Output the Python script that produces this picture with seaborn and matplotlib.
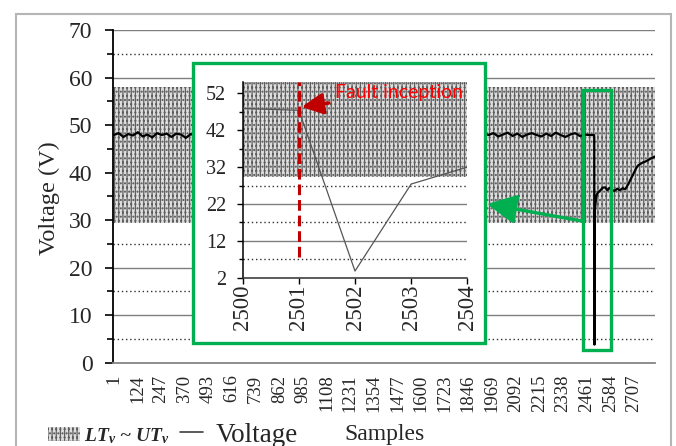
import numpy as np
import pandas as pd
import matplotlib
matplotlib.use("Agg")
import matplotlib.pyplot as plt
from matplotlib.patches import Rectangle, Patch
from matplotlib.lines import Line2D
from matplotlib.ticker import MultipleLocator, FixedLocator
import seaborn as sns

# ---------------- data ----------------
pre_samples = list(range(1, 2500, 25))
pre_voltage = [
    47.9, 48.3, 47.5, 48.1, 47.8, 48.5, 47.6, 48.0, 47.4, 48.3,
    47.9, 48.2, 47.5, 48.2, 48.0, 47.3, 48.1, 47.7, 48.4, 47.6,
    48.0, 47.5, 48.3, 47.9, 48.6, 47.6, 48.0, 47.7, 48.2, 47.5,
    48.3, 47.9, 47.4, 48.0, 48.4, 47.7, 48.2, 47.6, 47.9, 48.3,
    47.5, 48.0, 48.5, 47.7, 48.2, 47.4, 48.0, 48.3, 47.6, 47.9,
    48.4, 47.7, 48.0, 47.5, 48.3, 47.9, 47.6, 48.2, 48.5, 47.7,
    48.0, 47.5, 48.2, 47.9, 48.4, 47.6, 48.0, 47.7, 48.3, 47.5,
    47.9, 48.3, 47.6, 48.0, 48.5, 47.7, 47.5, 48.2, 47.9, 48.3,
    47.6, 48.0, 48.4, 47.7, 48.2, 47.5, 48.0, 48.3, 47.9, 47.6,
    48.2, 47.7, 48.4, 47.9, 47.5, 48.0, 48.3, 47.7, 48.0, 47.9,
]
fault_samples = [2500, 2501, 2502, 2503, 2504]
fault_voltage = [47.9, 47.4, 3.8, 27.4, 32.0]
post_samples = [2512, 2520, 2531, 2545, 2557, 2570, 2580, 2593, 2605, 2620,
                2635, 2648, 2661, 2670, 2677, 2688, 2698, 2710, 2720, 2729,
                2740, 2752, 2766, 2780, 2792, 2802, 2817]
post_voltage = [35.2, 35.8, 36.2, 36.8, 36.9, 36.3, 36.8, 36.4, 36.1, 36.6,
                36.3, 36.7, 36.5, 37.0, 37.5, 38.4, 39.2, 40.2, 41.0, 41.5,
                41.8, 42.1, 42.3, 42.6, 42.9, 43.1, 43.4]

band_low = 29.3   # LT_v
band_high = 58.0  # UT_v

xtick_values = [1, 124, 247, 370, 493, 616, 739, 862, 985, 1108, 1231, 1354,
                1477, 1600, 1723, 1846, 1969, 2092, 2215, 2338, 2461, 2584, 2707]
inset_xticks = [2500, 2501, 2502, 2503, 2504]
fault_sample = 2501

df = pd.DataFrame({
    "Samples": pre_samples + fault_samples + post_samples,
    "Voltage": pre_voltage + fault_voltage + post_voltage,
})
df_in = df[(df["Samples"] >= 2500) & (df["Samples"] <= 2504)]

# ---------------- style ----------------
sns.set_theme(style="white")
plt.rcParams["font.family"] = ["Liberation Serif", "DejaVu Serif"]
plt.rcParams["mathtext.fontset"] = "custom"
plt.rcParams["mathtext.bfit"] = "Liberation Serif:bold:italic"
plt.rcParams["mathtext.it"] = "Liberation Serif:italic"
plt.rcParams["mathtext.rm"] = "Liberation Serif"
plt.rcParams["hatch.linewidth"] = 0.9

W, H = 676, 446
fig = plt.figure(figsize=(W / 100, H / 100), dpi=100)
fig.patch.set_facecolor("white")

GREEN = "#00b050"
HATCH_FACE = "#dedede"
HATCH_EDGE = "#5e5e5e"
HATCH = "||||...."

# ---------------- main axes ----------------
ax = fig.add_axes([113 / W, 1 - 362.7 / H, 542 / W, (362.7 - 30) / H])
ax.set_facecolor("white")
xmin, xmax = -3.2, 2817
ax.set_xlim(xmin, xmax)
ax.set_ylim(0, 70)

ax.set_axisbelow(True)
ax.yaxis.set_major_locator(MultipleLocator(10))
ax.yaxis.set_minor_locator(MultipleLocator(5))
ax.grid(True, which="major", axis="y", color="#7f7f7f", lw=1.0, ls="-")
ax.grid(True, which="minor", axis="y", color="#303030", lw=1.0, ls=(0, (1, 2)))
ax.grid(False, axis="x")

ax.fill_between([xmin, xmax], band_low, band_high, facecolor=HATCH_FACE,
                edgecolor=HATCH_EDGE, hatch=HATCH, lw=0, zorder=1)

sns.lineplot(data=df, x="Samples", y="Voltage", ax=ax, color="black",
             linewidth=1.6, estimator=None, zorder=3)

for s in ["top", "right"]:
    ax.spines[s].set_visible(False)
ax.spines["left"].set_color("black")
ax.spines["left"].set_linewidth(1.3)
ax.spines["bottom"].set_color("#868686")
ax.spines["bottom"].set_linewidth(1.3)

ax.set_xticks(xtick_values)
ax.set_xticklabels([str(v) for v in xtick_values], rotation=90, fontsize=13.5)
ax.tick_params(axis="x", length=0, pad=8.5)
ax.tick_params(axis="y", which="major", length=5.8, width=1.2, direction="out",
               labelsize=17, pad=9, color="black", left=True)
ax.tick_params(axis="y", which="minor", length=4, width=1.2, direction="out",
               color="black", left=True)

ax.set_ylabel("Voltage (V)", fontsize=17.5)
ax.yaxis.set_label_coords(-0.098, 0.495)
ax.set_xlabel("Samples", fontsize=17, va="center")
ax.xaxis.set_label_coords(0.5, -0.217)

# small green box around fault
ax.add_patch(Rectangle((2441, 2.67), 2586 - 2441, 57.3 - 2.67, fill=False,
                       edgecolor=GREEN, lw=2.4, clip_on=False, zorder=5))

# ---------------- inset box ----------------
fig.patches.append(Rectangle((192.7 / W, 1 - 343 / H), (485 - 192.7) / W,
                             (343 - 63.3) / H, transform=fig.transFigure,
                             facecolor="white", edgecolor=GREEN, lw=2.4,
                             zorder=2))

axi = fig.add_axes([242.7 / W, 1 - 277.7 / H, (467.3 - 242.7) / W,
                    (277.7 - 82.3) / H], zorder=3)
axi.set_facecolor("white")
axi.set_xlim(2500, 2504)
axi.set_ylim(2, 55)
axi.set_axisbelow(True)
axi.yaxis.set_major_locator(FixedLocator([2, 12, 22, 32, 42, 52]))
axi.yaxis.set_minor_locator(FixedLocator([7, 17, 27, 37, 47]))
axi.grid(True, which="major", axis="y", color="#7f7f7f", lw=1.0, ls="-")
axi.grid(True, which="minor", axis="y", color="#303030", lw=1.0, ls=(0, (1, 2)))
axi.grid(False, axis="x")
axi.fill_between([2500, 2504], band_low, band_high, facecolor=HATCH_FACE,
                 edgecolor=HATCH_EDGE, hatch=HATCH, lw=0, zorder=1)
sns.lineplot(data=df_in, x="Samples", y="Voltage", ax=axi, color="#555555",
             linewidth=0.9, estimator=None, zorder=3)
axi.plot([fault_sample, fault_sample], [7.7, 55], color="#c00000", lw=2.2,
         ls=(0, (3.5, 1.6)), zorder=4)
axi.annotate("Fault inception", xy=(fault_sample + 0.05, 48.3),
             xytext=(2501.64, 52.2), fontsize=14, color="#ff0000",
             family=["Lato", "DejaVu Sans"], va="center", ha="left",
             arrowprops=dict(arrowstyle="-|>,head_length=0.8,head_width=0.4",
                             color="#c00000", lw=2.6, shrinkA=2, shrinkB=0,
                             mutation_scale=16), zorder=6)

for s in ["top", "right"]:
    axi.spines[s].set_visible(False)
axi.spines["left"].set_color("black")
axi.spines["left"].set_linewidth(1.1)
axi.spines["bottom"].set_color("#333333")
axi.spines["bottom"].set_linewidth(1.1)
axi.set_xticks(inset_xticks)
axi.set_xticklabels([str(v) for v in inset_xticks], rotation=90, fontsize=16.5)
axi.tick_params(axis="x", length=4, width=1.0, direction="out", pad=1,
                color="black", bottom=True)
axi.tick_params(axis="y", which="major", length=4, width=1.0, direction="out",
                labelsize=14.5, pad=8, color="black", left=True)
axi.tick_params(axis="y", which="minor", length=3, width=1.0, direction="out",
                color="black", left=True)
axi.set_xlabel("")
axi.set_ylabel("")

# ---------------- green arrow ----------------
fig.add_artist(matplotlib.patches.FancyArrowPatch(
    (582 / W, 1 - 221 / H), (487 / W, 1 - 204 / H), transform=fig.transFigure,
    arrowstyle="-|>,head_length=0.9,head_width=0.45", mutation_scale=20,
    color=GREEN, lw=2.4, shrinkA=0, shrinkB=0, zorder=4))

# ---------------- legends ----------------
band_handle = Patch(facecolor=HATCH_FACE, edgecolor=HATCH_EDGE, hatch=HATCH,
                    lw=0)
leg1 = fig.legend([band_handle], [r"$\mathbfit{LT_v}$ ~ $\mathbfit{UT_v}$"],
                  loc="center left", bbox_to_anchor=(48 / W, 1 - 436 / H),
                  frameon=False, borderpad=0, borderaxespad=0,
                  handlelength=1.65, handleheight=0.75, handletextpad=0.2,
                  prop={"family": "Liberation Serif", "weight": "bold",
                        "style": "italic", "size": 14})
line_handle = Line2D([], [], color="#404040", lw=1.2)
leg2 = fig.legend([line_handle], ["Voltage"], loc="center left",
                  bbox_to_anchor=(180 / W, 1 - 435 / H), frameon=False,
                  borderpad=0, borderaxespad=0, handlelength=0.85,
                  handletextpad=0.45, prop={"family": "Liberation Serif",
                                            "size": 19.5})

# ---------------- outer border ----------------
fig.add_artist(Rectangle((16 / W, -0.05), (671 - 16) / W, (446 - 14) / H + 0.05,
                         transform=fig.transFigure, fill=False,
                         edgecolor="#b5b5b5", lw=1.5, zorder=10))

fig.savefig("out.png", dpi=100, facecolor="white")
